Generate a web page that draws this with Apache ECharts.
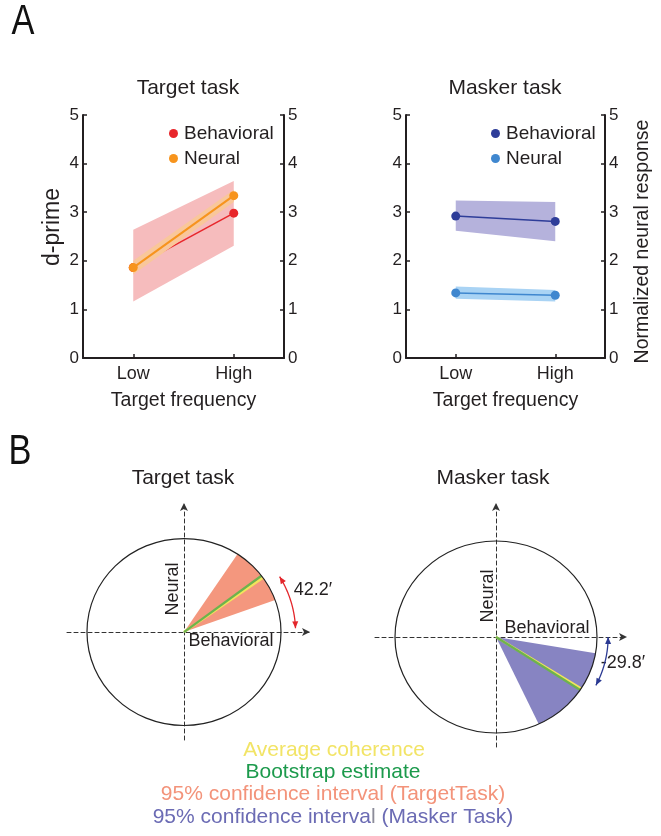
<!DOCTYPE html>
<html><head><meta charset="utf-8">
<script src="https://cdn.jsdelivr.net/npm/echarts@6/dist/echarts.min.js"></script>
<style>html,body{margin:0;padding:0;background:#fff}#c{width:661px;height:836px}</style>
</head><body><div id="c"></div>
<script>
// ---- Panel A data ----
const frequencies = ['Low', 'High'];
const targetBehavioral = [1.86, 2.98];
const targetNeural = [1.86, 3.34];
const targetBehavioralBandLow = [1.16, 2.31];
const targetBehavioralBandHigh = [2.64, 3.64];
const targetNeuralBandLow = [1.72, 3.21];
const targetNeuralBandHigh = [2.0, 3.46];
const maskerBehavioral = [2.92, 2.81];
const maskerNeural = [1.34, 1.29];
const maskerBehavioralBandLow = [2.62, 2.40];
const maskerBehavioralBandHigh = [3.24, 3.21];
const maskerNeuralBandLow = [1.22, 1.16];
const maskerNeuralBandHigh = [1.47, 1.40];
const dprimeMin = 0, dprimeMax = 5, dprimeStep = 1;

// ---- Panel B data (angles in degrees) ----
const coherencePanels = ['Target task', 'Masker task'];
const ciLowerDeg = [20, -65];
const ciUpperDeg = [56.5, -9.8];
const averageCoherenceDeg = [35.5, -32.5];
const bootstrapDeg = [37, -33.5];
const arrowStartDeg = [2, -27];
const arrowEndDeg = [31, 0];
const angleLabels = ['42.2\u2032', '-29.8\u2032'];

const FONT = 'Liberation Sans, Arial, sans-serif';
const INK = '#231f20';

const chart = echarts.init(document.getElementById('c'), null, {renderer: 'canvas'});

function yAxisDef(gridIndex, pos, name) {
  return {
    type: 'value', gridIndex, position: pos, min: dprimeMin, max: dprimeMax, interval: dprimeStep,
    axisLine: {show: true, lineStyle: {color: INK, width: 2}},
    axisTick: {show: true, inside: true, length: 4, lineStyle: {color: INK, width: 1.5}},
    axisLabel: {color: INK, fontSize: 17, fontFamily: FONT, margin: 4},
    splitLine: {show: false},
    name: name || '', nameLocation: 'middle', nameRotate: 90,
    nameGap: 28,
    nameTextStyle: {color: INK, fontSize: 19.5, fontFamily: FONT, padding: [0, 10, 0, 0]}
  };
}
function xAxisDef(gridIndex) {
  return {
    type: 'category', gridIndex, data: frequencies, boundaryGap: true,
    axisLine: {show: true, lineStyle: {color: INK, width: 2}},
    axisTick: {show: true, inside: true, alignWithLabel: true, length: 4, lineStyle: {color: INK, width: 1.5}},
    axisLabel: {color: INK, fontSize: 18, fontFamily: FONT, margin: 7},
    name: 'Target frequency', nameLocation: 'middle', nameGap: 33,
    nameTextStyle: {color: INK, fontSize: 19.5, fontFamily: FONT}
  };
}
function polarAxis(type, gridIndex, min, max) {
  return {
    type: 'value', gridIndex, min, max,
    axisLine: {show: true, onZero: true, symbol: ['none', 'arrow'], symbolSize: [6, 8],
      lineStyle: {color: '#333', width: 1, type: [4, 3]}},
    axisTick: {show: false}, axisLabel: {show: false}, splitLine: {show: false}
  };
}
function band(name, xi, yi, lo, hi, color, stack, z) {
  return [
    {type: 'line', name: name + ' lo', xAxisIndex: xi, yAxisIndex: yi, data: lo, stack, symbol: 'none',
      lineStyle: {opacity: 0}, silent: true, z},
    {type: 'line', name: name + ' hi', xAxisIndex: xi, yAxisIndex: yi, data: hi.map((h, i) => h - lo[i]), stack,
      symbol: 'none', lineStyle: {opacity: 0}, areaStyle: {color, opacity: 1}, silent: true, z}
  ];
}
function lineSeries(name, xi, yi, data, color, width, z) {
  return {type: 'line', name, xAxisIndex: xi, yAxisIndex: yi, data, symbol: 'circle', symbolSize: 9,
    itemStyle: {color}, lineStyle: {color, width}, z, silent: true};
}

const wedgeColors = ['#f4977e', '#8784c2'];
const arrowColors = ['#e3262b', '#2b3a93'];

function makeRender(p) {
  return function (params, api) {
    const c = api.coord([0, 0]);
    const s = api.size([1, 1]);
    const sx = s[0], sy = s[1];
    const pt = (deg, r) => [c[0] + sx * r * Math.cos(deg * Math.PI / 180), c[1] - sy * r * Math.sin(deg * Math.PI / 180)];
    const lo = ciLowerDeg[p], hi = ciUpperDeg[p];
    const wedge = [c];
    for (let d = lo; d <= hi; d += 0.5) wedge.push(pt(d, 1));
    wedge.push(pt(hi, 1));
    const R = p === 0 ? 1.15 : 1.11;
    const a0 = arrowStartDeg[p], a1 = arrowEndDeg[p];
    const arc = [];
    for (let d = a0; d <= a1; d += 0.5) arc.push(pt(d, R));
    arc.push(pt(a1, R));
    function head(deg, dir) {
      const tip = pt(deg, R);
      const a = deg * Math.PI / 180;
      let t = [-sx * Math.sin(a) * dir, -sy * Math.cos(a) * dir];
      const L = Math.hypot(t[0], t[1]); t = [t[0] / L, t[1] / L];
      const n = [-t[1], t[0]];
      const b = [tip[0] - t[0] * 7, tip[1] - t[1] * 7];
      return {type: 'polygon', shape: {points: [tip, [b[0] + n[0] * 3, b[1] + n[1] * 3], [b[0] - n[0] * 3, b[1] - n[1] * 3]]},
        style: {fill: arrowColors[p]}};
    }
    const avgEnd = pt(averageCoherenceDeg[p], 1), bootEnd = pt(bootstrapDeg[p], 1);
    return {type: 'group', children: [
      {type: 'polygon', shape: {points: wedge}, style: {fill: wedgeColors[p]}},
      {type: 'line', shape: {x1: c[0], y1: c[1], x2: avgEnd[0], y2: avgEnd[1]}, style: {stroke: '#f2e55c', lineWidth: 2.5}},
      {type: 'line', shape: {x1: c[0], y1: c[1], x2: bootEnd[0], y2: bootEnd[1]}, style: {stroke: '#6db34d', lineWidth: 2.2}},
      {type: 'ellipse', shape: {cx: c[0], cy: c[1], rx: sx, ry: sy}, style: {fill: 'none', stroke: '#222', lineWidth: 1.2}},
      {type: 'polyline', shape: {points: arc}, style: {stroke: arrowColors[p], lineWidth: 1.3, fill: 'none'}},
      head(a1, 1), head(a0, -1)
    ]};
  };
}

function txt(text, x, y, size, color, opts) {
  return Object.assign({type: 'text', x, y, silent: true,
    style: {text, fill: color || INK, font: size + 'px ' + FONT, align: 'center', verticalAlign: 'middle'}}, opts || {});
}

const option = {
  animation: false,
  backgroundColor: '#fff',
  grid: [
    {left: 83, top: 115, width: 201, height: 243},
    {left: 406, top: 115, width: 199, height: 243},
    {left: 67, top: 503, width: 243, height: 237},
    {left: 375, top: 503, width: 252, height: 244}
  ],
  xAxis: [xAxisDef(0), xAxisDef(1),
    polarAxis('x', 2, -1.206, 1.299), polarAxis('x', 3, -1.198, 1.297)],
  yAxis: [yAxisDef(0, 'left'), yAxisDef(0, 'right'),
    yAxisDef(1, 'left'), yAxisDef(1, 'right', 'Normalized neural response'),
    polarAxis('y', 2, -1.155, 1.380), polarAxis('y', 3, -1.146, 1.396)],
  legend: [
    {data: ['Target Behavioral', 'Target Neural'], orient: 'vertical', left: 164, top: 119, icon: 'circle',
      itemWidth: 9, itemHeight: 9, itemGap: 6, formatter: n => n.split(' ')[1],
      textStyle: {fontSize: 19, fontFamily: FONT, color: INK, padding: [0, 0, 0, 1]}},
    {data: ['Masker Behavioral', 'Masker Neural'], orient: 'vertical', left: 486, top: 119, icon: 'circle',
      itemWidth: 9, itemHeight: 9, itemGap: 6, formatter: n => n.split(' ')[1],
      textStyle: {fontSize: 19, fontFamily: FONT, color: INK, padding: [0, 0, 0, 1]}}
  ],
  series: [
    ...band('tb', 0, 0, targetBehavioralBandLow, targetBehavioralBandHigh, '#f6bcbd', 'tb', 1),
    lineSeries('Target Behavioral', 0, 0, targetBehavioral, '#e8262b', 1.5, 2),
    ...band('tn', 0, 0, targetNeuralBandLow, targetNeuralBandHigh, '#f9c79a', 'tn', 3),
    lineSeries('Target Neural', 0, 0, targetNeural, '#f7941d', 2, 4),
    ...band('mb', 1, 2, maskerBehavioralBandLow, maskerBehavioralBandHigh, '#b5b2dc', 'mb', 1),
    ...band('mn', 1, 2, maskerNeuralBandLow, maskerNeuralBandHigh, '#a9d3f4', 'mn', 1),
    lineSeries('Masker Behavioral', 1, 2, maskerBehavioral, '#2e3d99', 1.5, 3),
    lineSeries('Masker Neural', 1, 2, maskerNeural, '#3f87cf', 1.5, 4),
    {type: 'custom', name: coherencePanels[0], xAxisIndex: 2, yAxisIndex: 4, data: [[0, 0]],
      renderItem: makeRender(0), silent: true, z: 5},
    {type: 'custom', name: coherencePanels[1], xAxisIndex: 3, yAxisIndex: 5, data: [[0, 0]],
      renderItem: makeRender(1), silent: true, z: 5}
  ],
  graphic: {elements: [
    txt('A', 23, 22, 43, '#111', {scaleX: 0.8}),
    txt('B', 20, 452, 43, '#111', {scaleX: 0.8}),
    txt('d-prime', 53, 227, 23, INK, {rotation: Math.PI / 2}),
    txt('Target task', 188, 88, 21),
    txt('Masker task', 505, 88, 21),
    txt(coherencePanels[0], 183, 478, 21),
    txt(coherencePanels[1], 493, 478, 21),
    txt('Neural', 173, 589, 18, INK, {rotation: Math.PI / 2}),
    txt('Behavioral', 231, 641, 18),
    txt('Neural', 488, 596, 18, INK, {rotation: Math.PI / 2}),
    txt('Behavioral', 547, 628, 18),
    txt(angleLabels[0], 313, 590, 18),
    txt(angleLabels[1], 623, 663, 18),
    txt('Average coherence', 334, 750, 21, '#f2e466'),
    txt('Bootstrap estimate', 333, 772, 21, '#1c9a4c'),
    txt('95% confidence interval (TargetTask)', 333, 794, 21, '#f3937a'),
    {type: 'text', x: 333, y: 817, silent: true, style: {
      text: '{a|95% confidence interva}{g|l}{a| (Masker Task)}', align: 'center', verticalAlign: 'middle',
      font: '21px ' + FONT,
      rich: {a: {fill: '#6b6bb4', font: '21px ' + FONT}, g: {fill: '#8c8c99', font: '21px ' + FONT}}}}
  ]}
};
chart.setOption(option);
</script></body></html>
